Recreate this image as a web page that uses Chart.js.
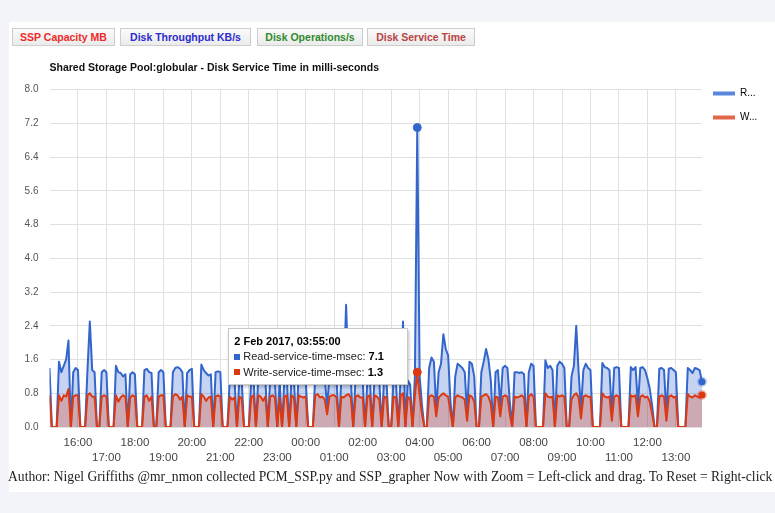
<!DOCTYPE html>
<html>
<head>
<meta charset="utf-8">
<title>SSP Disk Service Time</title>
<script src="https://cdn.jsdelivr.net/npm/chart.js@4.4.1/dist/chart.umd.min.js"></script>
<style>
  html, body { margin: 0; padding: 0; }
  body { width: 775px; height: 513px; background: #f3f3fa; position: relative; overflow: hidden;
         font-family: "Liberation Sans", Arial, sans-serif; }
  #page { position: absolute; left: 9px; top: 22px; width: 766px; height: 470px; background: #fff; }
  .tab { position: absolute; top: 28px; height: 18px; line-height: 16px; box-sizing: border-box;
         border: 1px solid #cdcdcd; background: linear-gradient(#fafafa, #ebebeb);
         font-weight: bold; font-size: 10.5px; text-align: center; white-space: nowrap; }
  #wrap { position: absolute; left: 10px; top: 55px; width: 765px; height: 415px; }
  #foot { position: absolute; left: 8px; top: 469px; line-height: 16px; white-space: nowrap; color: #222;
          font-family: "Liberation Serif", "Times New Roman", serif; font-size: 13px; }
  #tip { position: absolute; display: none; box-sizing: border-box; width: 180px; height: 57px;
         padding: 5px 0 0 5px; background: #fff; border: 1px solid #c8c8c8;
         box-shadow: 1px 2px 3px rgba(0,0,0,0.25); font-size: 11px; line-height: 15.5px; color: #222; white-space: nowrap; }
  #tip .sw { display: inline-block; width: 6px; height: 6px; margin: 0 3px 1px 0; vertical-align: middle; }
  #tip .hd { font-weight: bold; color: #000; }
  #tip b { color: #000; }
</style>
</head>
<body>
<div id="page"></div>
<div class="tab" style="left:12px;width:103px;color:#ee2a2a">SSP Capacity MB</div>
<div class="tab" style="left:120px;width:131px;color:#2b2bcf">Disk Throughput KB/s</div>
<div class="tab" style="left:257px;width:106px;color:#2f8a2f">Disk Operations/s</div>
<div class="tab" style="left:367px;width:108px;color:#b84444">Disk Service Time</div>
<div id="wrap"><canvas id="sspChart"></canvas></div>
<div id="tip"></div>
<div id="foot">Author: Nigel Griffiths @mr_nmon collected PCM_SSP.py and SSP_grapher Now with Zoom = Left-click and drag. To Reset = Right-click</div>
<script>
// samples every 5 minutes from 1 Feb 2017 15:00 to 2 Feb 2017 13:55 (one row per hour)
const readMsec = [
  1.40, 0, 0, 0, 1.55, 1.30, 1.45, 1.60, 2.05, 0, 1.30, 1.40,   // 15:00
  1.35, 0, 0, 0, 1.35, 2.50, 1.35, 1.30, 0, 0, 1.30, 1.35,      // 16:00
  1.30, 0, 0, 0, 1.45, 1.30, 1.28, 1.20, 1.25, 0, 1.25, 1.30,   // 17:00
  1.25, 0, 0, 0, 1.35, 1.38, 1.30, 1.28, 0, 0, 1.30, 1.35,      // 18:00
  1.30, 0, 0, 0, 1.30, 1.40, 1.42, 1.38, 1.30, 0, 1.28, 1.35,   // 19:00
  1.38, 0, 0, 0, 1.48, 1.35, 1.28, 1.22, 1.25, 0, 1.30, 1.32,   // 20:00
  1.30, 0, 0, 0, 1.20, 1.25, 1.10, 0, 1.15, 1.10, 0, 0,         // 21:00
  0, 1.10, 1.15, 0, 1.20, 1.25, 1.20, 1.10, 0, 1.15, 1.20, 1.10, // 22:00
  0, 1.10, 0, 1.15, 1.20, 0, 1.20, 1.15, 0, 1.25, 1.20, 1.15,   // 23:00
  1.10, 0, 0, 0, 1.20, 1.30, 1.25, 1.20, 1.15, 0.50, 1.20, 1.25, // 00:00
  1.20, 1.10, 0, 1.15, 1.10, 2.90, 1.20, 1.15, 0, 1.20, 1.25, 1.15, // 01:00
  1.10, 0, 1.15, 1.20, 0, 1.20, 1.25, 1.10, 0, 1.15, 1.10, 0,   // 02:00
  0, 1.15, 1.10, 0, 1.20, 2.50, 0, 1.10, 1.00, 0, 1.20, 7.10,   // 03:00
  1.20, 0.50, 0, 0, 1.40, 1.65, 1.55, 0.40, 1.30, 1.50, 2.20, 1.85, // 04:00
  1.70, 0.60, 0, 1.20, 1.50, 1.45, 1.40, 1.30, 0.30, 1.55, 1.50, 1.20, // 05:00
  0, 0, 1.30, 1.55, 1.85, 1.60, 1.10, 0, 1.30, 1.35, 0.50, 1.40, // 06:00
  1.45, 1.40, 0.60, 0, 1.30, 1.30, 1.28, 1.30, 1.25, 0, 1.30, 1.50, // 07:00
  1.45, 0, 0, 0, 0, 1.58, 1.40, 1.45, 1.35, 0, 1.45, 1.55,      // 08:00
  1.50, 1.40, 0, 0, 1.20, 1.45, 2.40, 1.30, 0.40, 1.35, 1.50, 1.40, // 09:00
  1.35, 0, 0, 0, 0, 1.52, 1.42, 1.40, 1.35, 0.30, 1.40, 1.42,   // 10:00
  1.40, 0, 0, 0, 0, 1.42, 1.35, 1.42, 0.50, 1.40, 1.42, 1.35,   // 11:00
  1.15, 0.90, 0.50, 0, 0, 1.38, 1.40, 1.35, 0.30, 1.38, 1.40, 1.35, // 12:00
  1.30, 0, 0, 0, 0, 1.40, 1.35, 1.28, 1.40, 1.38, 1.35, 1.07    // 13:00
];
const writeMsec = [
  0.75, 0, 0, 0, 0.75, 0.62, 0.75, 0.72, 0.90, 0, 0.72, 0.75,
  0.75, 0, 0, 0, 0.75, 0.80, 0.72, 0.72, 0, 0, 0.72, 0.75,
  0.72, 0, 0, 0, 0.75, 0.60, 0.70, 0.75, 0.72, 0, 0.70, 0.75,
  0.72, 0, 0, 0, 0.72, 0.75, 0.62, 0.72, 0, 0, 0.72, 0.75,
  0.75, 0, 0, 0, 0.72, 0.78, 0.75, 0.65, 0.72, 0, 0.75, 0.72,
  0.72, 0, 0, 0, 0.78, 0.72, 0.62, 0.70, 0.72, 0, 0.72, 0.75,
  0.72, 0, 0, 0, 0.72, 0.65, 0.70, 0, 0.72, 0.68, 0, 0,
  0, 0.70, 0.75, 0, 0.75, 0.72, 0.62, 0.72, 0, 0.72, 0.75, 0.70,
  0, 0.70, 0, 0.72, 0.75, 0, 0.75, 0.70, 0, 0.75, 0.72, 0.70,
  0.72, 0, 0, 0, 0.75, 0.78, 0.70, 0.72, 0.65, 0.30, 0.72, 0.75,
  0.75, 0.70, 0, 0.72, 0.70, 0.75, 0.78, 0.70, 0, 0.72, 0.75, 0.70,
  0.70, 0, 0.72, 0.75, 0, 0.75, 0.72, 0.65, 0, 0.72, 0.70, 0,
  0, 0.72, 0.70, 0, 0.75, 0.80, 0, 0.72, 0.65, 0, 0.75, 1.30,
  0.75, 0.30, 0, 0, 0.72, 0.75, 0.72, 0.25, 0.70, 0.75, 0.80, 0.75,
  0.72, 0.35, 0, 0.70, 0.75, 0.72, 0.70, 0.65, 0.15, 0.75, 0.72, 0.60,
  0, 0, 0.72, 0.75, 0.78, 0.72, 0.55, 0, 0.72, 0.70, 0.25, 0.72,
  0.75, 0.72, 0.30, 0, 0.72, 0.70, 0.72, 0.75, 0.70, 0, 0.72, 0.78,
  0.72, 0, 0, 0, 0, 0.80, 0.72, 0.70, 0.72, 0, 0.75, 0.72,
  0.75, 0.72, 0, 0, 0.65, 0.75, 0.80, 0.70, 0.20, 0.72, 0.75, 0.72,
  0.72, 0, 0, 0, 0, 0.80, 0.72, 0.70, 0.72, 0.15, 0.72, 0.75,
  0.72, 0, 0, 0, 0, 0.75, 0.72, 0.75, 0.25, 0.72, 0.75, 0.70,
  0.72, 0.60, 0.30, 0, 0, 0.72, 0.75, 0.72, 0.15, 0.72, 0.75, 0.70,
  0.72, 0, 0, 0, 0, 0.78, 0.72, 0.70, 0.75, 0.72, 0.70, 0.76
];

// hours since midnight of 1 Feb (past 24 = 2 Feb)
const sampleHours = readMsec.map((_, i) => 15 + i / 12);

const xTickHours = [16, 17, 18, 19, 20, 21, 22, 23, 24, 25, 26, 27, 28, 29, 30, 31, 32, 33, 34, 35, 36, 37];
const xTickLabels = ["16:00", "17:00", "18:00", "19:00", "20:00", "21:00", "22:00", "23:00", "00:00", "01:00", "02:00",
                     "03:00", "04:00", "05:00", "06:00", "07:00", "08:00", "09:00", "10:00", "11:00", "12:00", "13:00"];
const yTickValues = [0, 0.8, 1.6, 2.4, 3.2, 4.0, 4.8, 5.6, 6.4, 7.2, 8.0];
const yTickLabels = ["0.0", "0.8", "1.6", "2.4", "3.2", "4.0", "4.8", "5.6", "6.4", "7.2", "8.0"];

const seriesNames = ["Read-service-time-msec", "Write-service-time-msec"];
const legendText = ["R...", "W..."];
const chartTitle = "Shared Storage Pool:globular - Disk Service Time in milli-seconds";

const readColor = "#3366cc";
const writeColor = "#dc3912";
const gridColor = "#e0e0e0";
const lastIdx = readMsec.length - 1;

// fit footer line to the page width
const foot = document.getElementById("foot");
foot.style.fontSize = (13 * 765 / foot.getBoundingClientRect().width) + "px";

function pad2(n) { return String(n).padStart(2, "0"); }

function drawTip(context) {
    const { chart, tooltip } = context;
    const el = document.getElementById("tip");
    if (tooltip.opacity === 0 || !tooltip.dataPoints || !tooltip.dataPoints.length) {
        el.style.display = "none";
        return;
    }
    const i = tooltip.dataPoints[0].dataIndex;
    const t = sampleHours[i];
    const day = t >= 24 ? 2 : 1;
    const hh = Math.floor(t) % 24;
    const mm = Math.round((t - Math.floor(t)) * 60);
    el.innerHTML =
        `<div class="hd">${day} Feb 2017, ${pad2(hh)}:${pad2(mm)}:00</div>` +
        `<div><span class="sw" style="background:${readColor}"></span>${seriesNames[0]}: <b>${readMsec[i].toFixed(1)}</b></div>` +
        `<div><span class="sw" style="background:${writeColor}"></span>${seriesNames[1]}: <b>${writeMsec[i].toFixed(1)}</b></div>`;
    el.style.display = "block";
    const box = chart.canvas.getBoundingClientRect();
    el.style.left = (box.left + tooltip.caretX - el.offsetWidth - 9) + "px";
    el.style.top = (box.top + chart.scales.y.getPixelForValue(2.35)) + "px";
}

// fixed-width legend column, items level with the top of the plot
const legendNudge = {
    id: "legendNudge",
    afterInit(chart) {
        const lg = chart.legend;
        const fit = lg.fit.bind(lg);
        lg.fit = function () { fit(); this.width = 73; };
    },
    afterLayout(chart) {
        chart.legend.top -= 15;
        chart.legend.bottom -= 15;
        chart.legend.left -= 3;
    }
};

Chart.defaults.font.family = '"Liberation Sans", Arial, sans-serif';
Chart.defaults.color = "#444";

function seriesSet(name, values, color, fillColor, haloColor, order) {
    return {
        label: name,
        data: values.map((v, i) => ({ x: sampleHours[i], y: v })),
        borderColor: color,
        backgroundColor: fillColor,
        fill: "origin",
        borderWidth: 2,
        borderJoinStyle: "round",
        tension: 0,
        order: order,
        clip: { left: 0, top: 6, right: 8, bottom: 0 },
        pointRadius: c => c.dataIndex === lastIdx ? 3.5 : 0,
        pointBackgroundColor: color,
        pointBorderColor: haloColor,
        pointBorderWidth: 3,
        pointHoverRadius: 4,
        pointHoverBackgroundColor: color,
        pointHoverBorderColor: color,
        pointHoverBorderWidth: 1
    };
}

const ctx = document.getElementById("sspChart").getContext("2d");
const chart = new Chart(ctx, {
    type: "line",
    data: {
        datasets: [
            seriesSet(seriesNames[0], readMsec, readColor, "rgba(51,102,204,0.28)", "rgba(51,102,204,0.3)", 1),
            seriesSet(seriesNames[1], writeMsec, writeColor, "rgba(220,57,18,0.28)", "rgba(220,57,18,0.3)", 0)
        ]
    },
    options: {
        animation: false,
        responsive: true,
        maintainAspectRatio: false,
        layout: { padding: 0 },
        plugins: {
            title: {
                display: true,
                text: chartTitle,
                align: "start",
                fullSize: false,
                color: "#111",
                font: { size: 10.5, weight: "bold" },
                padding: { top: 7, bottom: 15 }
            },
            legend: {
                position: "right",
                align: "start",
                fullSize: false,
                labels: {
                    boxWidth: 22,
                    boxHeight: 4,
                    padding: 14,
                    color: "#444",
                    font: { size: 10 },
                    generateLabels: () => legendText.map((t, k) => ({
                        text: t,
                        fillStyle: k === 0 ? "#5a86dc" : "#e2674a",
                        strokeStyle: k === 0 ? "#5a86dc" : "#e2674a",
                        lineWidth: 0,
                        datasetIndex: k,
                        hidden: false
                    }))
                }
            },
            tooltip: { enabled: false, external: drawTip }
        },
        scales: {
            x: {
                type: "linear",
                min: sampleHours[0],
                max: sampleHours[lastIdx],
                border: { display: false },
                grid: { color: gridColor, drawTicks: false },
                afterBuildTicks: axis => { axis.ticks = xTickHours.map(v => ({ value: v })); },
                afterFit: axis => { axis.height = 43; },
                ticks: {
                    autoSkip: false,
                    maxRotation: 0,
                    padding: 8,
                    color: "#444",
                    font: { size: 11.5, lineHeight: 1.3 },
                    // two staggered rows: even hours on top, odd hours below
                    callback: (v, i) => i % 2 === 0 ? [xTickLabels[i], ""] : ["", xTickLabels[i]]
                }
            },
            y: {
                min: 0,
                max: 8,
                border: { display: false },
                grid: { color: gridColor, drawTicks: false },
                afterBuildTicks: axis => { axis.ticks = yTickValues.map(v => ({ value: v })); },
                afterFit: axis => { axis.width = 39.5; },
                ticks: {
                    padding: 11,
                    color: "#555",
                    font: { size: 10 },
                    callback: (v, i) => yTickLabels[i]
                }
            }
        }
    },
    plugins: [legendNudge]
});

// hovered sample: the 03:55 peak
const peak = readMsec.indexOf(Math.max(...readMsec));
const active = [{ datasetIndex: 0, index: peak }, { datasetIndex: 1, index: peak }];
chart.setActiveElements(active);
chart.tooltip.setActiveElements(active, { x: 0, y: 0 });
chart.update("none");
</script>
</body>
</html>
